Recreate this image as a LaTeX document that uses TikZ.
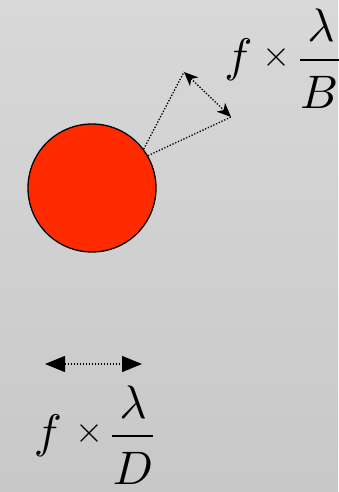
\documentclass[tikz,border=0pt]{standalone}
\usepackage{graphicx}
\usetikzlibrary{arrows.meta}
\definecolor{bgtop}{RGB}{216,216,216}
\definecolor{bgbot}{RGB}{200,200,200}
\definecolor{starred}{RGB}{255,42,0}
\newcommand{\bigsym}[1]{\scalebox{4.7}{$#1$}}
\newcommand{\bigtimes}{\scalebox{3.6}{$\times$}}
\tikzset{
  lbl/.style={inner sep=0pt, anchor=base},
  opsym/.style={inner sep=0pt, anchor=center},
  dotline/.style={line width=1.3pt, dash pattern=on 1.3pt off 1.7pt},
  fracbar/.style={line width=1.6pt},
}
\begin{document}
\begin{tikzpicture}[x=1pt,y=-1pt]
\shade[top color=bgtop, bottom color=bgbot] (0,0) rectangle (338,492);
\useasboundingbox (0,0) rectangle (338,492);
% star
\node[circle, draw, line width=1.3pt, fill=starred, minimum size=128pt, inner sep=0pt] (star) at (92,188) {};
% baseline triangle
\coordinate (pa) at (184,72);
\coordinate (pb) at (231,117);
\draw[dotline] (star.37) -- (pa);
\draw[dotline] (star.30) -- (pb);
\draw[dotline, {Stealth[length=14pt,width=12pt,inset=4pt]}-{Stealth[length=14pt,width=12pt,inset=4pt]}] (pa) -- (pb);
% top label
\node[lbl] (tf) at (238.5,72) {\bigsym{f}};
\node[opsym] (tx) at (276,58) {\bigtimes};
\node[lbl] (tl) at (321,42) {\bigsym{\lambda}};
\node[lbl] (tB) at (319,109) {\bigsym{B}};
\coordinate (tb1) at (300,60);
\coordinate (tb2) at (345,60);
\draw[fracbar] (tb1) -- (tb2);
% bottom arrow
\coordinate (da) at (45,364);
\coordinate (db) at (142,364);
\draw[dotline, {Triangle[length=20pt,width=16pt]}-{Triangle[length=20pt,width=16pt]}] (da) -- (db);
% bottom label
\node[lbl] (bf) at (48,447) {\bigsym{f}};
\node[opsym] (bx) at (89,433) {\bigtimes};
\node[lbl] (bl) at (133,418) {\bigsym{\lambda}};
\node[lbl] (bD) at (133,484) {\bigsym{D}};
\coordinate (bb1) at (112,436);
\coordinate (bb2) at (153,436);
\draw[fracbar] (bb1) -- (bb2);
\end{tikzpicture}
\end{document}
